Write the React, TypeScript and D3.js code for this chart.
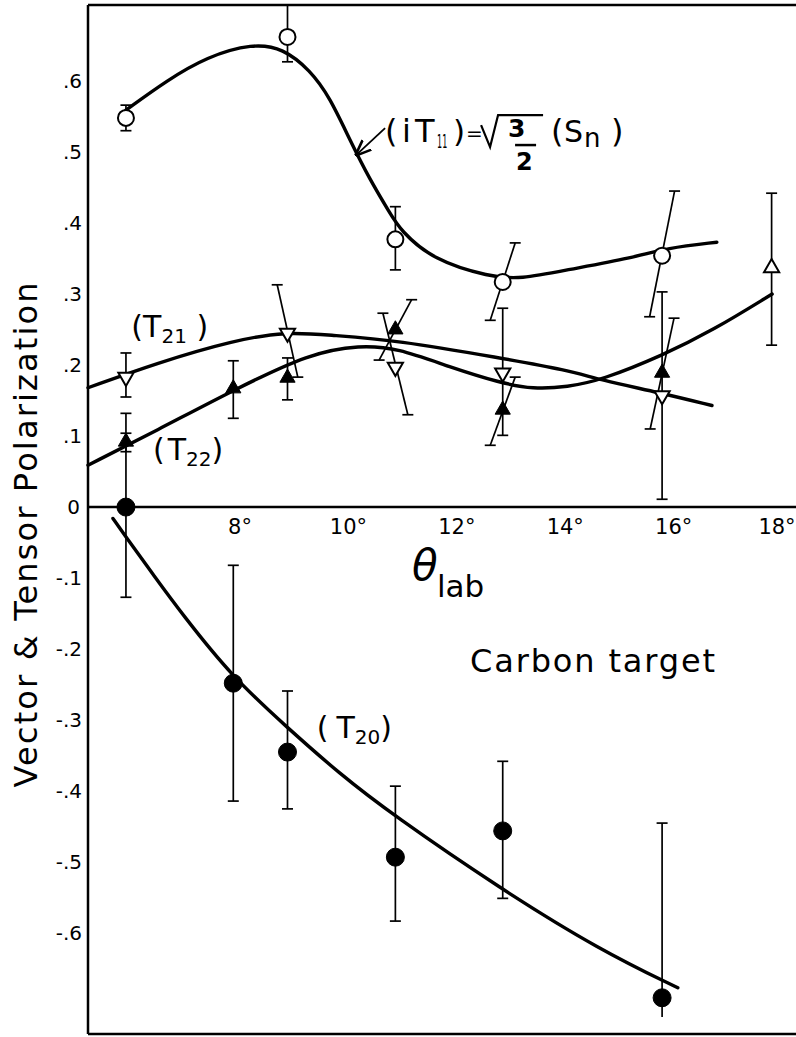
import React from 'react';
import * as d3 from 'd3';

const W = 796;
const H = 1037;

// Lab angle (deg) and polarization ranges covered by the frame
const thetaDomain = [5.27, 18.33];
const polDomain = [-0.742, 0.707];

const yTicks = [0.6, 0.5, 0.4, 0.3, 0.2, 0.1, 0, -0.1, -0.2, -0.3, -0.4, -0.5, -0.6];
const yTickLabels = ['.6', '.5', '.4', '.3', '.2', '.1', '0', '-.1', '-.2', '-.3', '-.4', '-.5', '-.6'];
const xTicks = [8, 10, 12, 14, 16, 18];
const xTickLabels = ['8°', '10°', '12°', '14°', '16°', '18°'];

// (iT11) vector polarization — open circles
const t11Theta = [5.97, 8.95, 10.94, 12.92, 15.86];
const t11Value = [0.548, 0.662, 0.377, 0.317, 0.354];
const t11ErrUp = [0.018, 0.045, 0.046, 0.055, 0.091];
const t11ErrDown = [0.018, 0.035, 0.043, 0.054, 0.086];
const t11Lean = [0, 0, 0, 0.23, 0.23];

// (T21) — open down-triangles
const t21Theta = [5.97, 8.95, 10.94, 12.92, 15.86];
const t21Value = [0.183, 0.245, 0.197, 0.189, 0.157];
const t21ErrUp = [0.034, 0.068, 0.076, 0.091, 0.146];
const t21ErrDown = [0.028, 0.062, 0.067, 0.088, 0.146];
const t21Lean = [0, -0.19, -0.23, 0, 0];

// (T22) — filled up-triangles
const t22Theta = [5.97, 7.95, 8.95, 10.94, 12.92, 15.86];
const t22Value = [0.092, 0.167, 0.182, 0.25, 0.137, 0.189];
const t22ErrUp = [0.012, 0.039, 0.028, 0.042, 0.046, 0.077];
const t22ErrDown = [0.014, 0.042, 0.031, 0.043, 0.05, 0.079];
const t22Lean = [0, 0, 0, 0.3, 0.23, 0.22];

// (T22) at 18° — open up-triangle
const t22bTheta = [17.88];
const t22bValue = [0.337];
const t22bErrUp = [0.105];
const t22bErrDown = [0.109];

// (T20) — filled circles
const t20Theta = [5.97, 7.95, 8.95, 10.94, 12.92, 15.86];
const t20Value = [0, -0.248, -0.345, -0.493, -0.456, -0.691];
const t20ErrUp = [0.132, 0.166, 0.086, 0.1, 0.098, 0.246];
const t20ErrDown = [0.127, 0.166, 0.08, 0.09, 0.095, 0.027];
const t20LowerCap = [true, true, true, true, true, false];

// Smooth fitted curves
const t11CurveTheta = [5.97, 6.73, 7.46, 8.31, 8.87, 9.37, 9.73, 10.1, 10.47, 10.84, 11.03, 11.63, 12.69, 13.24, 14.11, 15.32, 15.95, 16.87];
const t11CurveValue = [0.559, 0.601, 0.634, 0.653, 0.646, 0.615, 0.577, 0.517, 0.461, 0.414, 0.39, 0.348, 0.324, 0.321, 0.334, 0.351, 0.365, 0.373];
const t21CurveTheta = [5.27, 6.54, 7.96, 8.94, 9.73, 10.97, 12.87, 14.11, 14.72, 15.82, 16.78];
const t21CurveValue = [0.168, 0.203, 0.235, 0.247, 0.242, 0.235, 0.21, 0.193, 0.179, 0.161, 0.143];
const t22CurveTheta = [5.27, 6.54, 7.96, 9.37, 10.29, 10.97, 11.95, 12.87, 13.48, 14.11, 14.75, 15.88, 16.8, 17.89];
const t22CurveValue = [0.059, 0.108, 0.165, 0.217, 0.228, 0.224, 0.197, 0.175, 0.166, 0.169, 0.179, 0.214, 0.249, 0.3];
const t20CurveTheta = [5.73, 5.95, 6.5, 7.0, 7.94, 8.94, 9.9, 10.9, 12.87, 14.72, 16.15];
const t20CurveValue = [-0.016, -0.04, -0.098, -0.15, -0.24, -0.31, -0.375, -0.434, -0.537, -0.624, -0.677];

const FONT = '"DejaVu Sans", "Liberation Sans", sans-serif';

const xs = d3.scaleLinear().domain(thetaDomain).range([88, 796]);
const ys = d3.scaleLinear().domain(polDomain).range([1034, 5]);

const smooth = d3
  .line<[number, number]>()
  .x((d) => xs(d[0]))
  .y((d) => ys(d[1]))
  .curve(d3.curveBasis);

const zip = (a: number[], b: number[]) => a.map((v, i) => [v, b[i]] as [number, number]);

const triPath = d3.symbol(d3.symbolTriangle, 100)() as string;

function ErrorBars(props: {
  theta: number[];
  value: number[];
  up: number[];
  down: number[];
  lean?: number[];
  lowerCap?: boolean[];
}) {
  const { theta, value, up, down, lean, lowerCap } = props;
  return (
    <g stroke="#000" strokeWidth={1.7} fill="none">
      {theta.map((t, i) => {
        const l = lean ? lean[i] : 0;
        const xTop = xs(t + l);
        const yTop = Math.max(ys(value[i] + up[i]), 5);
        const xBot = xs(t - l);
        const yBot = ys(value[i] - down[i]);
        const cap = 5.5;
        return (
          <g key={i}>
            <line x1={xTop} y1={yTop} x2={xBot} y2={yBot} />
            <line x1={xTop - cap} x2={xTop + cap} y1={yTop} y2={yTop} />
            {(!lowerCap || lowerCap[i]) && <line x1={xBot - cap} x2={xBot + cap} y1={yBot} y2={yBot} />}
          </g>
        );
      })}
    </g>
  );
}

// "(T" + subscript + ")" series label
function SeriesLabel(props: { x: number; y: number; sub: string; gap: number; tail: string }) {
  return (
    <text x={props.x} y={props.y} fontSize={30} fontFamily={FONT}>
      (
      <tspan dx={props.gap}>T</tspan>
      <tspan fontSize={20} dy={6}>
        {props.sub}
      </tspan>
      <tspan dy={-6}>{props.tail}</tspan>
    </text>
  );
}

export default function App() {
  const x0 = xs(thetaDomain[0]);
  const x1 = xs(thetaDomain[1]);
  const yTop = ys(polDomain[1]);
  const yBot = ys(polDomain[0]);

  // anchor of the (iT11) formula
  const fx = xs(10.75);
  const fy = ys(0.514);

  return (
    <svg
      width={W}
      height={H}
      viewBox={`0 0 ${W} ${H}`}
      style={{ position: 'absolute', left: 0, top: 0, background: '#fff' }}
    >
      <rect x={0} y={0} width={W} height={H} fill="#fff" />

      {/* frame */}
      <g stroke="#000" strokeWidth={2.5} fill="none">
        <line x1={x0} x2={x0} y1={yTop} y2={yBot} />
        <line x1={x0} x2={x1 + 5} y1={yTop} y2={yTop} />
        <line x1={x0} x2={x1 + 5} y1={yBot} y2={yBot} />
        <line x1={x0} x2={x1 + 5} y1={ys(0)} y2={ys(0)} />
      </g>

      {/* y tick labels */}
      <g fontFamily={FONT} fontSize={20} textAnchor="end">
        {yTicks.map((t, i) => (
          <text key={t} x={t === 0 ? 80 : 82} y={ys(t) + 7}>
            {yTickLabels[i]}
          </text>
        ))}
      </g>

      {/* x tick labels */}
      <g fontFamily={FONT} fontSize={21} textAnchor="middle">
        {xTicks.map((t, i) => (
          <text key={t} x={Math.min(xs(t) + 4, 777)} y={ys(0) + 27}>
            {xTickLabels[i]}
          </text>
        ))}
      </g>

      {/* axis titles */}
      <text
        transform={`translate(37, 535) rotate(-90)`}
        fontFamily={FONT}
        fontSize={32}
        textAnchor="middle"
        textLength={505}
        lengthAdjust="spacing"
      >
        Vector &amp; Tensor Polarization
      </text>
      <text x={412} y={580} fontFamily={FONT} fontSize={42} fontStyle="italic">
        θ
      </text>
      <text x={437} y={597} fontFamily={FONT} fontSize={31}>
        lab
      </text>
      <text x={470} y={672} fontFamily={FONT} fontSize={32} textLength={245} lengthAdjust="spacing">
        Carbon target
      </text>

      {/* fitted curves */}
      <g fill="none" stroke="#000" strokeWidth={3.4} strokeLinecap="round">
        <path d={smooth(zip(t11CurveTheta, t11CurveValue)) as string} />
        <path d={smooth(zip(t21CurveTheta, t21CurveValue)) as string} />
        <path d={smooth(zip(t22CurveTheta, t22CurveValue)) as string} />
        <path d={smooth(zip(t20CurveTheta, t20CurveValue)) as string} />
      </g>

      {/* error bars */}
      <ErrorBars theta={t11Theta} value={t11Value} up={t11ErrUp} down={t11ErrDown} lean={t11Lean} />
      <ErrorBars theta={t21Theta} value={t21Value} up={t21ErrUp} down={t21ErrDown} lean={t21Lean} />
      <ErrorBars theta={t22Theta} value={t22Value} up={t22ErrUp} down={t22ErrDown} lean={t22Lean} />
      <ErrorBars theta={t22bTheta} value={t22bValue} up={t22bErrUp} down={t22bErrDown} />
      <ErrorBars theta={t20Theta} value={t20Value} up={t20ErrUp} down={t20ErrDown} lowerCap={t20LowerCap} />

      {/* markers */}
      <g stroke="#000" strokeWidth={2} fill="#fff">
        {t11Theta.map((t, i) => (
          <circle key={i} cx={xs(t)} cy={ys(t11Value[i])} r={8} />
        ))}
        {t21Theta.map((t, i) => (
          <path key={i} d={triPath} transform={`translate(${xs(t)},${ys(t21Value[i])}) rotate(180)`} />
        ))}
        {t22bTheta.map((t, i) => (
          <path key={i} d={triPath} transform={`translate(${xs(t)},${ys(t22bValue[i])})`} />
        ))}
      </g>
      <g fill="#000" stroke="#000" strokeWidth={1}>
        {t22Theta.map((t, i) => (
          <path key={i} d={triPath} transform={`translate(${xs(t)},${ys(t22Value[i])})`} />
        ))}
        {t20Theta.map((t, i) => (
          <circle key={i} cx={xs(t)} cy={ys(t20Value[i])} r={9} />
        ))}
      </g>

      {/* series labels */}
      <SeriesLabel x={xs(6.07)} y={ys(0.239)} gap={0} sub="21" tail=" )" />
      <SeriesLabel x={xs(6.47)} y={ys(0.066)} gap={3} sub="22" tail=")" />
      <SeriesLabel x={xs(9.49)} y={ys(-0.325)} gap={8} sub="20" tail=")" />

      {/* (iT11) = √3/2 (Sn) with pointer */}
      <g transform={`translate(${fx},${fy})`} fontFamily={FONT}>
        <text x={0} y={0} fontSize={32}>(</text>
        <text x={17} y={0} fontSize={32}>i</text>
        <text x={30} y={0} fontSize={32}>T</text>
        <text transform="translate(52,6) scale(0.42,1)" fontSize={19}>11</text>
        <text x={68} y={0} fontSize={31}>)</text>
        <text x={81} y={-2} fontSize={20}>=</text>
        <path d="M96,-17 L105,5 L113,-27 L158,-27" fill="none" stroke="#000" strokeWidth={2.2} />
        <text x={123} y={-5} fontSize={25} fontWeight="bold">3</text>
        <line x1={130} x2={151} y1={3} y2={3} stroke="#000" strokeWidth={2.5} />
        <text x={131} y={28} fontSize={24} fontWeight="bold">2</text>
        <text x={166} y={0} fontSize={32}>(</text>
        <text x={179} y={0} fontSize={30}>S</text>
        <text x={199} y={5} fontSize={26}>n</text>
        <text x={226} y={0} fontSize={32}>)</text>
      </g>
      <defs>
        <marker id="arrowHead" viewBox="0 0 10 10" refX={9} refY={5} markerWidth={9} markerHeight={9} orient="auto">
          <path d="M0,1 L10,5 L0,9" fill="none" stroke="#000" strokeWidth={1.6} />
        </marker>
      </defs>
      <line
        x1={fx}
        y1={fy - 14}
        x2={xs(10.22)}
        y2={ys(0.496)}
        stroke="#000"
        strokeWidth={1.8}
        markerEnd="url(#arrowHead)"
      />
    </svg>
  );
}
